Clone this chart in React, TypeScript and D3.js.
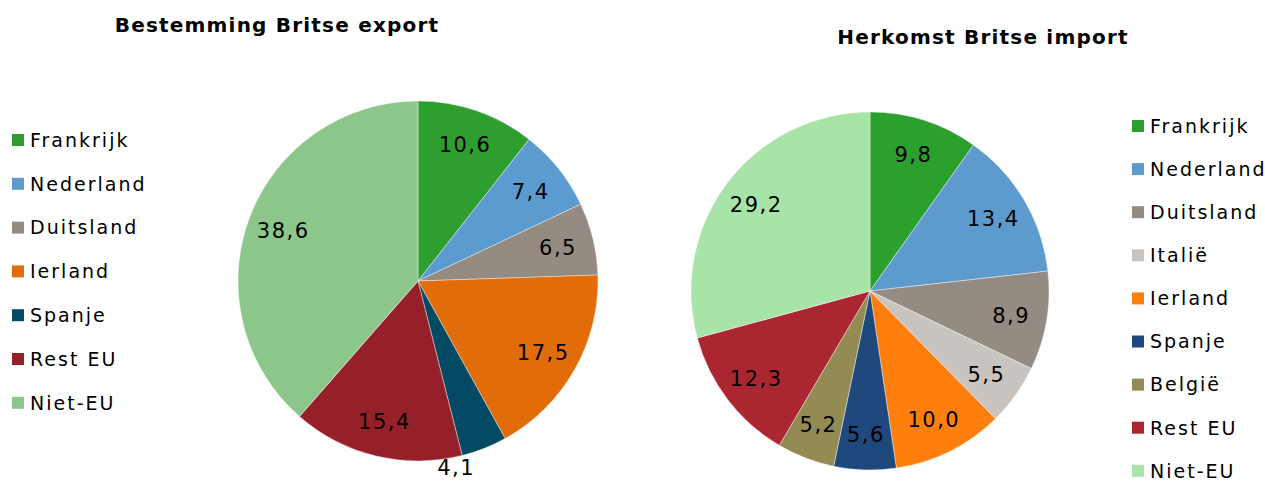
import React, { useRef, useEffect } from 'react';
import * as d3 from 'd3';

// export destinations
const exportCategories = ['Frankrijk', 'Nederland', 'Duitsland', 'Ierland', 'Spanje', 'Rest EU', 'Niet-EU'];
const exportValues = [10.6, 7.4, 6.5, 17.5, 4.1, 15.4, 38.6];
const exportColors = ['#2e9f2e', '#5b9bd0', '#948b83', '#e36c0a', '#024a64', '#962029', '#8dc68b'];

// import origins
const importCategories = ['Frankrijk', 'Nederland', 'Duitsland', 'Italië', 'Ierland', 'Spanje', 'België', 'Rest EU', 'Niet-EU'];
const importValues = [9.8, 13.4, 8.9, 5.5, 10.0, 5.6, 5.2, 12.3, 29.2];
const importColors = ['#2ca02c', '#5d9bcf', '#948b83', '#c9c4bf', '#ff7f0e', '#1f497d', '#948a54', '#ac2632', '#a8e4a8'];

const FONT = 'Verdana, "DejaVu Sans", sans-serif';
const fmt = (v: number) => v.toFixed(1).replace('.', ',');

const App = () => {
  const svgRef = useRef<SVGSVGElement>(null);

  useEffect(() => {
    const svg = d3.select(svgRef.current);
    svg.selectAll('*').remove();

    const drawPie = (opts: {
      values: number[]; colors: string[]; cx: number; cy: number; r: number;
      outside?: number[];
    }) => {
      const pie = d3.pie<number>().sort(null).value(d => d);
      const arcs = pie(opts.values);
      const arc = d3.arc<d3.PieArcDatum<number>>().innerRadius(0).outerRadius(opts.r);
      const g = svg.append('g').attr('transform', `translate(${opts.cx},${opts.cy})`);

      g.selectAll('path')
        .data(arcs)
        .enter().append('path')
        .attr('d', arc)
        .attr('fill', (d, i) => opts.colors[i])
        .attr('stroke', '#ffffff')
        .attr('stroke-width', 0.4);

      // labels at 80% of the radius, small slices outside
      g.selectAll('text')
        .data(arcs)
        .enter().append('text')
        .attr('x', (d, i) => {
          if (opts.outside && opts.outside.includes(i)) return Math.sin(d.endAngle) * opts.r - 6;
          const a = (d.startAngle + d.endAngle) / 2;
          return Math.sin(a) * opts.r * 0.8;
        })
        .attr('y', (d, i) => {
          if (opts.outside && opts.outside.includes(i)) return -Math.cos(d.endAngle) * opts.r + 12;
          const a = (d.startAngle + d.endAngle) / 2;
          return -Math.cos(a) * opts.r * 0.8;
        })
        .attr('dy', '0.36em')
        .attr('text-anchor', 'middle')
        .attr('font-family', FONT)
        .attr('font-size', 21)
        .attr('letter-spacing', 1.5)
        .attr('fill', '#000')
        .text(d => fmt(d.data));
    };

    const drawLegend = (cats: string[], colors: string[], x: number, y0: number, step: number) => {
      const g = svg.append('g');
      cats.forEach((c, i) => {
        const y = y0 + i * step;
        g.append('rect')
          .attr('x', x).attr('y', y - 6)
          .attr('width', 12).attr('height', 12)
          .attr('fill', colors[i]);
        g.append('text')
          .attr('x', x + 18).attr('y', y)
          .attr('dy', '0.36em')
          .attr('font-family', FONT)
          .attr('font-size', 19)
          .attr('letter-spacing', 2)
          .attr('fill', '#000')
          .text(c);
      });
    };

    const title = (t: string, x: number, y: number) => {
      svg.append('text')
        .attr('x', x).attr('y', y)
        .attr('text-anchor', 'middle')
        .attr('font-family', FONT)
        .attr('font-weight', 'bold')
        .attr('font-size', 20)
        .attr('letter-spacing', 1.2)
        .attr('fill', '#000')
        .text(t);
    };

    title('Bestemming Britse export', 277, 32);
    title('Herkomst Britse import', 983, 44);

    drawPie({ values: exportValues, colors: exportColors, cx: 418, cy: 281, r: 180, outside: [4] });
    drawPie({ values: importValues, colors: importColors, cx: 870, cy: 291, r: 179 });

    drawLegend(exportCategories, exportColors, 12, 140, 43.8);
    drawLegend(importCategories, importColors, 1132, 126, 43.1);
  }, []);

  return (
    <svg ref={svgRef} width={1265} height={482}
      style={{ position: 'absolute', left: 0, top: 0, background: '#fff' }} />
  );
};

export default App;
